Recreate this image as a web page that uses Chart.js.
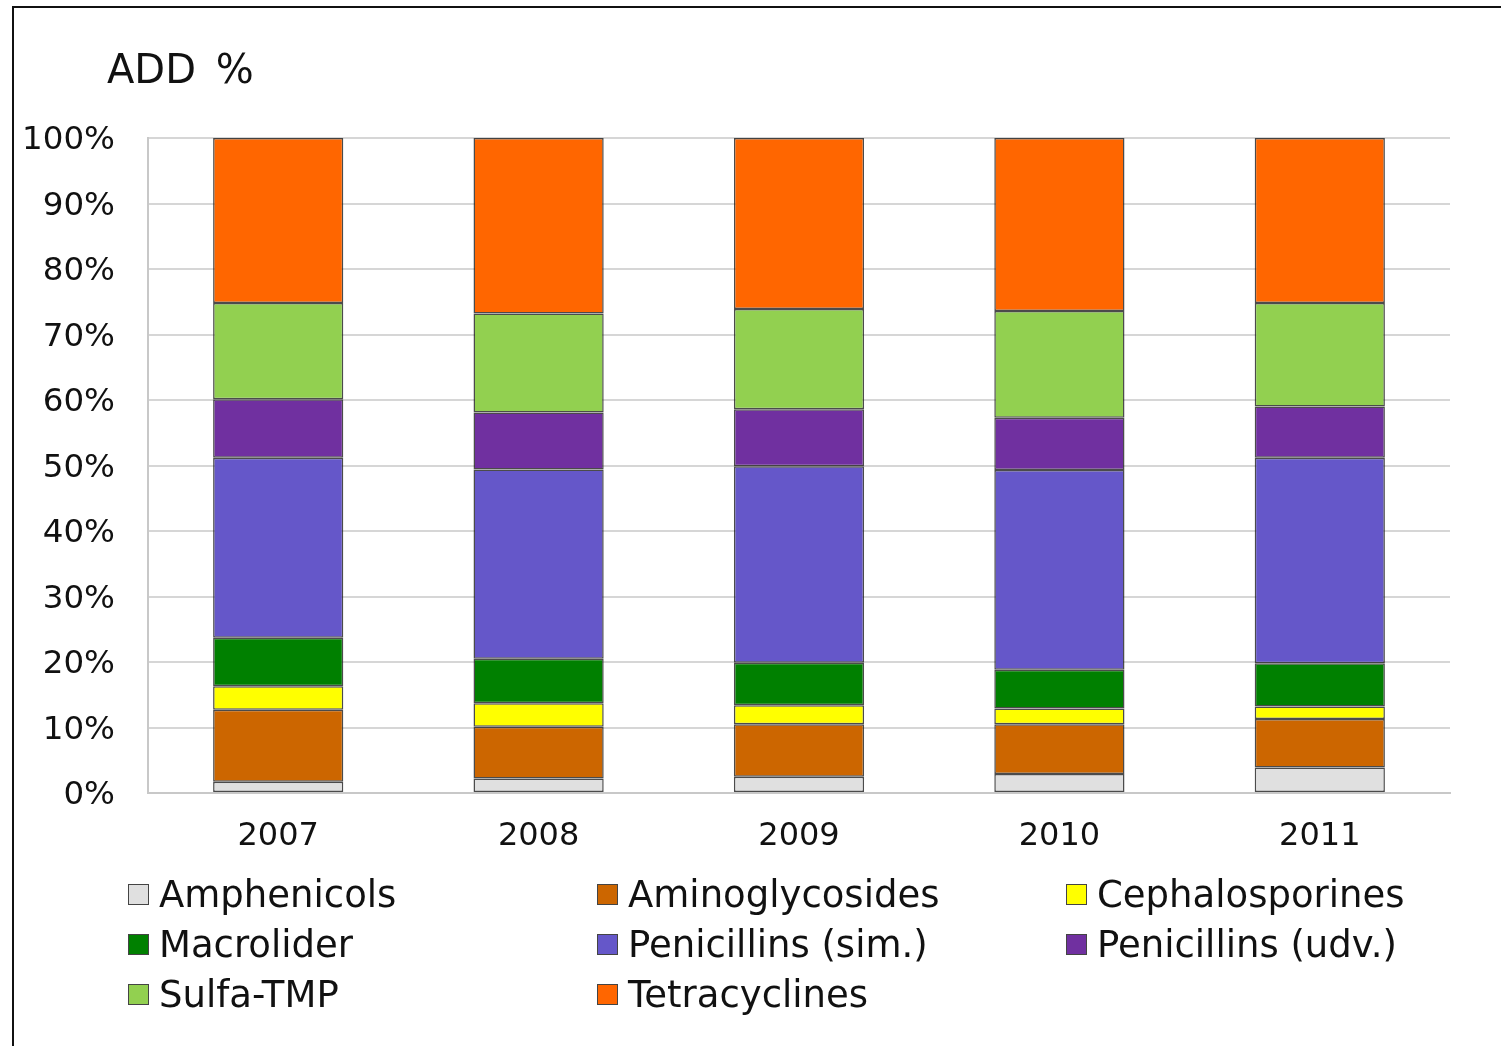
<!DOCTYPE html>
<html>
<head>
<meta charset="utf-8">
<script src="https://cdn.jsdelivr.net/npm/chart.js@4.4.0/dist/chart.umd.min.js"></script>
<style>
  body { margin: 0; background: #fff; font-family: "DejaVu Sans", Verdana, sans-serif; color: #111; }
  #wrap { position: relative; width: 1501px; height: 1046px; overflow: hidden; }
  #frame { position: absolute; left: 12px; top: 6px; width: 1600px; height: 1200px;
           border-top: 2px solid #111; border-left: 2px solid #111; }
  #chart { position: absolute; left: 0; top: 0; }
  #title { position: absolute; left: 107px; top: 46px; font-size: 40px; word-spacing: 7px; }
  .leg { position: absolute; height: 50px; display: flex; align-items: center; font-size: 37px; white-space: nowrap; }
  .leg span.box { display: inline-block; width: 19px; height: 19px; border: 1px solid #444; margin-right: 10px; }
</style>
</head>
<body>
<div id="wrap">
  <div id="frame"></div>
  <canvas id="chart" width="1501" height="1046"></canvas>
  <div id="title">ADD %</div>
  <div id="legend"></div>
</div>
<script>
// ====== Datos: ADD % por año ======
const years = ['2007', '2008', '2009', '2010', '2011'];
const yTicks = [0, 10, 20, 30, 40, 50, 60, 70, 80, 90, 100];

const amphenicols     = [1.7, 2.2, 2.5, 2.9, 3.9];
const aminoglycosides = [11.0, 7.9, 8.0, 7.6, 7.4];
const cephalosporines = [3.6, 3.6, 2.9, 2.4, 1.9];
const macrolider      = [7.4, 6.8, 6.5, 5.9, 6.6];
const penicillinsSim  = [27.5, 28.9, 30.0, 30.5, 31.4];
const penicillinsUdv  = [8.9, 8.7, 8.7, 8.0, 7.8];
const sulfaTmp        = [14.7, 15.1, 15.3, 16.3, 15.8];
const tetracyclines   = [25.2, 26.8, 26.1, 26.4, 25.2];

const series = [
  { label: 'Amphenicols',        data: amphenicols,     color: '#e0e0e0' },
  { label: 'Aminoglycosides',    data: aminoglycosides, color: '#cc6600' },
  { label: 'Cephalosporines',    data: cephalosporines, color: '#ffff00' },
  { label: 'Macrolider',         data: macrolider,      color: '#008000' },
  { label: 'Penicillins (sim.)', data: penicillinsSim,  color: '#6557c9' },
  { label: 'Penicillins (udv.)', data: penicillinsUdv,  color: '#7030a0' },
  { label: 'Sulfa-TMP',          data: sulfaTmp,        color: '#92d050' },
  { label: 'Tetracyclines',      data: tetracyclines,   color: '#ff6600' }
];

// ====== Gráfica de barras apiladas 100% ======
const ctx = document.getElementById('chart').getContext('2d');
new Chart(ctx, {
  type: 'bar',
  data: {
    labels: years,
    datasets: series.map(s => ({
      label: s.label,
      data: s.data,
      backgroundColor: s.color,
      borderColor: 'rgba(30, 30, 30, 0.8)',
      borderWidth: 1.5,
      borderSkipped: false,
      categoryPercentage: 1,
      barPercentage: 0.5
    }))
  },
  options: {
    responsive: false,
    animation: false,
    layout: { padding: { left: 0, right: 51, top: 138, bottom: 183 } },
    plugins: { legend: { display: false }, tooltip: { enabled: false } },
    scales: {
      x: {
        stacked: true,
        grid: { display: false, drawTicks: false },
        border: { color: '#c8c8c8', width: 2 },
        ticks: { color: '#111', padding: 24, font: { family: 'DejaVu Sans', size: 32 } },
        afterFit: s => { s.height = 70; }
      },
      y: {
        stacked: true,
        min: 0,
        max: 100,
        afterBuildTicks: s => { s.ticks = yTicks.map(v => ({ value: v })); },
        grid: { color: '#d6d6d6', lineWidth: 2, drawTicks: false },
        border: { color: '#c8c8c8', width: 2 },
        ticks: {
          color: '#111',
          padding: 33,
          labelOffset: 3,
          font: { family: 'DejaVu Sans', size: 32.5 },
          callback: v => v + '%'
        },
        afterFit: s => { s.width = 148; }
      }
    }
  }
});

// ====== Leyenda en tres columnas ======
const legend = document.getElementById('legend');
const colX = [128, 597, 1066];
const rowY = [869, 919, 969];
series.forEach((s, i) => {
  const item = document.createElement('div');
  item.className = 'leg';
  item.style.left = colX[i % 3] + 'px';
  item.style.top = rowY[Math.floor(i / 3)] + 'px';
  const box = document.createElement('span');
  box.className = 'box';
  box.style.background = s.color;
  item.appendChild(box);
  item.appendChild(document.createTextNode(s.label));
  legend.appendChild(item);
});
</script>
</body>
</html>
